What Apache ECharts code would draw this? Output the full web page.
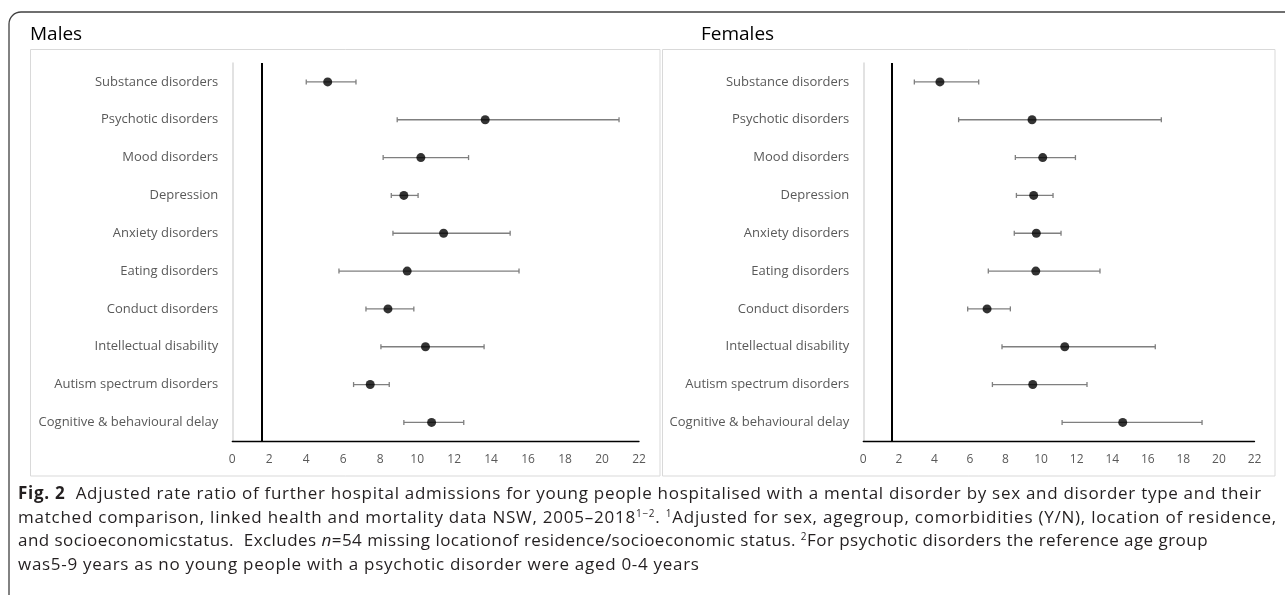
<!DOCTYPE html>
<html>
<head>
<meta charset="utf-8">
<script src="https://cdn.jsdelivr.net/npm/echarts@6/dist/echarts.min.js"></script>
<style>
  html, body { margin: 0; padding: 0; background: #fff; }
  #wrap { position: relative; width: 1285px; height: 595px; overflow: hidden; }
  #chart { position: absolute; left: 0; top: 0; width: 1285px; height: 595px; }
  #caption { position: absolute; left: 18px; top: 481px; font-family: 'Open Sans', sans-serif;
             font-size: 16px; line-height: 23.5px; color: #231f20; }
  #caption div { white-space: nowrap; width: max-content; }
  #caption sup { font-size: 10px; line-height: 0; vertical-align: 6px; }
</style>
</head>
<body>
<div id="wrap">
  <div id="chart"></div>
  <div id="caption">
    <div data-w="1244"><b>Fig. 2</b>&nbsp; Adjusted rate ratio of further hospital admissions for young people hospitalised with a mental disorder by sex and disorder type and their</div>
    <div data-w="1259">matched comparison, linked health and mortality data NSW, 2005–2018<sup>1−2</sup>. <sup>1</sup>Adjusted for sex, agegroup, comorbidities (Y/N), location of residence,</div>
    <div data-w="1190">and socioeconomicstatus.&nbsp; Excludes <i>n</i>=54 missing locationof residence/socioeconomic status. <sup>2</sup>For psychotic disorders the reference age group</div>
    <div>was5-9 years as no young people with a psychotic disorder were aged 0-4 years</div>
  </div>
</div>
<script>
const categories = [
  'Substance disorders',
  'Psychotic disorders',
  'Mood disorders',
  'Depression',
  'Anxiety disorders',
  'Eating disorders',
  'Conduct disorders',
  'Intellectual disability',
  'Autism spectrum disorders',
  'Cognitive & behavioural delay'
];

// adjusted rate ratio with 95% CI
const maleRate  = [5.16, 13.68, 10.2, 9.28, 11.43, 9.46, 8.42, 10.45, 7.46, 10.78];
const maleLower = [4.0, 8.92, 8.16, 8.6, 8.69, 5.77, 7.23, 8.04, 6.56, 9.28];
const maleUpper = [6.69, 20.92, 12.78, 10.05, 15.03, 15.51, 9.82, 13.62, 8.49, 12.52];

const femaleRate  = [4.31, 9.49, 10.09, 9.58, 9.73, 9.7, 6.96, 11.33, 9.53, 14.59];
const femaleLower = [2.87, 5.36, 8.55, 8.61, 8.49, 7.03, 5.87, 7.8, 7.26, 11.18];
const femaleUpper = [6.49, 16.76, 11.93, 10.67, 11.12, 13.31, 8.27, 16.42, 12.58, 19.05];

const xMin = 0;
const xMax = 22;
const xStep = 2;
const refLine = 1.6;

const FONT = "'Open Sans', 'Noto Sans', sans-serif";

function errorBar(params, api) {
  const lo = api.coord([api.value(0), api.value(2)]);
  const hi = api.coord([api.value(1), api.value(2)]);
  const cap = 2.5;
  const style = { stroke: '#7f7f7f', lineWidth: 1.3 };
  return {
    type: 'group',
    children: [
      { type: 'line', shape: { x1: lo[0], y1: lo[1], x2: hi[0], y2: hi[1] }, style },
      { type: 'line', shape: { x1: lo[0], y1: lo[1] - cap, x2: lo[0], y2: lo[1] + cap }, style },
      { type: 'line', shape: { x1: hi[0], y1: hi[1] - cap, x2: hi[0], y2: hi[1] + cap }, style }
    ]
  };
}

function xAxisFor(idx) {
  return {
    type: 'value', gridIndex: idx, min: xMin, max: xMax, interval: xStep,
    axisLine: { show: true, lineStyle: { color: '#000', width: 1.3 } },
    axisTick: { show: false },
    splitLine: { show: false },
    axisLabel: { color: '#595959', fontSize: 12, fontFamily: FONT, margin: 12 }
  };
}

function yAxisFor(idx) {
  return {
    type: 'category', gridIndex: idx, data: categories, inverse: true,
    axisLine: { show: true, lineStyle: { color: '#d9d9d9', width: 1.5 } },
    axisTick: { show: false },
    splitLine: { show: false },
    axisLabel: { color: '#595959', fontSize: 13, fontFamily: FONT, margin: 14 }
  };
}

function seriesFor(idx, rate, lower, upper) {
  return [
    {
      type: 'custom', xAxisIndex: idx, yAxisIndex: idx,
      renderItem: errorBar,
      encode: { x: [0, 1], y: 2 },
      data: lower.map((v, i) => [v, upper[i], i]),
      z: 2
    },
    {
      type: 'scatter', xAxisIndex: idx, yAxisIndex: idx,
      symbol: 'circle', symbolSize: 9,
      itemStyle: { color: '#000' },
      data: rate.map((v, i) => [v, categories[i]]),
      z: 3,
      markLine: {
        silent: true, symbol: 'none', label: { show: false },
        lineStyle: { color: '#000', width: 2, type: 'solid' },
        data: [{ xAxis: refLine }]
      }
    }
  ];
}

const chart = echarts.init(document.getElementById('chart'));
chart.setOption({
  animation: false,
  title: [
    { text: 'Males', left: 30, top: 25, padding: 0,
      textStyle: { fontSize: 19, fontWeight: 'normal', color: '#000', fontFamily: FONT } },
    { text: 'Females', left: 701, top: 25, padding: 0,
      textStyle: { fontSize: 19, fontWeight: 'normal', color: '#000', fontFamily: FONT } }
  ],
  graphic: [
    { type: 'rect', silent: true, z: -10,
      shape: { x: 9, y: 12, width: 1320, height: 620, r: [12, 0, 0, 0] },
      style: { fill: 'none', stroke: '#404040', lineWidth: 1.3 } },
    { type: 'rect', silent: true, z: -10,
      shape: { x: 30.5, y: 49.5, width: 629.5, height: 426.5 },
      style: { fill: 'none', stroke: '#d9d9d9', lineWidth: 1 } },
    { type: 'rect', silent: true, z: -10,
      shape: { x: 662.5, y: 49.5, width: 612.5, height: 426.5 },
      style: { fill: 'none', stroke: '#d9d9d9', lineWidth: 1 } }
  ],
  grid: [
    { left: 232.3, top: 63, width: 406.7, height: 378.3 },
    { left: 863.3, top: 63, width: 391.2, height: 378.3 }
  ],
  xAxis: [xAxisFor(0), xAxisFor(1)],
  yAxis: [yAxisFor(0), yAxisFor(1)],
  series: [
    ...seriesFor(0, maleRate, maleLower, maleUpper),
    ...seriesFor(1, femaleRate, femaleLower, femaleUpper)
  ]
});

// size the caption so its justified lines take the widths they have in the figure
function fitCaption() {
  const box = document.getElementById('caption');
  const lines = box.querySelectorAll('div');
  lines.forEach(el => { el.style.letterSpacing = '0px'; });
  box.style.fontSize = '16px';
  const first = lines[0];
  let size = 16 * (+first.dataset.w) / first.getBoundingClientRect().width;
  size = Math.min(size, 17);
  box.style.fontSize = size + 'px';
  let base = 0;
  lines.forEach((el, i) => {
    const w = el.getBoundingClientRect().width;
    const n = el.textContent.length;
    const ls = el.dataset.w ? (+el.dataset.w - w) / n : base;
    if (i === 0) base = ls;
    el.style.letterSpacing = ls + 'px';
  });
}
fitCaption();
if (document.fonts && document.fonts.ready) {
  document.fonts.ready.then(fitCaption);
}
</script>
</body>
</html>
